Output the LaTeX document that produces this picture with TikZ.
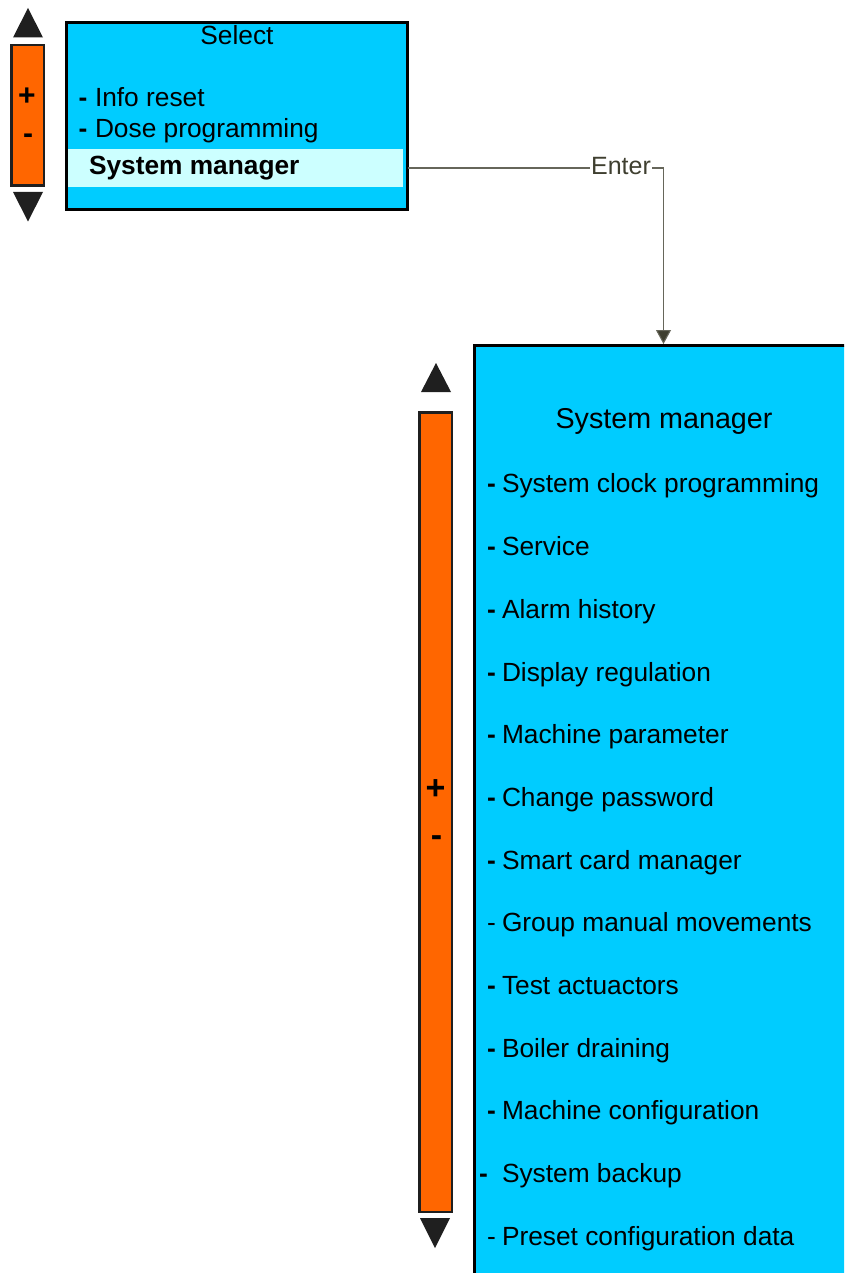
\documentclass[tikz,border=0pt]{standalone}
\usepackage{fontspec}
\setmainfont{Liberation Sans}
\usetikzlibrary{arrows.meta}
\definecolor{scr}{HTML}{00CCFF}
\definecolor{orng}{HTML}{FF6600}
\definecolor{hilite}{HTML}{CCFFFF}
\definecolor{tri}{HTML}{1F1F1F}
\definecolor{connline}{HTML}{66665A}
\definecolor{conntxt}{HTML}{3F3F30}
\begin{document}
\begin{tikzpicture}[x=1pt,y=-1pt,
  screenbox/.style={draw=black, line width=3pt, fill=scr, anchor=north west, outer sep=0pt, inner sep=0pt},
  barbox/.style={draw=black!88, line width=2.5pt, fill=orng, anchor=north west, outer sep=0pt, inner sep=0pt},
  hlbox/.style={fill=hilite, anchor=north west, outer sep=0pt, inner sep=0pt},
  txt/.style={inner sep=0pt, outer sep=0pt, anchor=base west, font=\fontsize{26.3}{30}\selectfont},
  sign/.style={inner sep=0pt, outer sep=0pt, anchor=center, font=\fontsize{30}{34}\selectfont\bfseries},
  bigsign/.style={inner sep=0pt, outer sep=0pt, anchor=center, font=\fontsize{34}{38}\selectfont\bfseries},
  conn/.style={draw=connline, line width=1.1pt, -{Triangle[length=14pt,width=15pt,fill=conntxt]}},
  lbl/.style={fill=white, text=conntxt, inner sep=1pt, font=\fontsize{25}{28}\selectfont}
]
\clip (0,0) rectangle (844,1273);
\useasboundingbox (0,0) rectangle (844,1273);

% ---- small scroll bar ----
\fill[tri] (13,37.5) -- (43,37.5) -- (28,8) -- cycle;
\node[barbox, minimum width=32.5pt, minimum height=140.5pt] (sbar) at (11.25,45.25) {};
\node[sign] (splus) at (27,96.5) {+};
\node[sign] (sminus) at (28,139) {-};
\fill[tri] (13,192) -- (43,192) -- (28,221.5) -- cycle;

% ---- select screen ----
\node[screenbox, minimum width=341pt, minimum height=187pt] (selbox) at (66.5,22.5) {};
\node[hlbox, minimum width=335pt, minimum height=38pt] (hl) at (68,149) {};
\node[txt, anchor=base] (seltitle) at (237,45) {Select};
\node[txt, font=\fontsize{26.3}{30}\selectfont\bfseries] (d1) at (78.5,107) {-};
\node[txt] (s1) at (95,107) {Info reset};
\node[txt, font=\fontsize{26.3}{30}\selectfont\bfseries] (d2) at (78.5,138) {-};
\node[txt] (s2) at (95,138) {Dose programming};
\node[txt, font=\fontsize{26.3}{30}\selectfont\bfseries] (s3) at (89,175) {System manager};

% ---- big scroll bar ----
\fill[tri] (421,392) -- (451,392) -- (436,363) -- cycle;
\node[barbox, minimum width=32.5pt, minimum height=799.5pt] (bbar) at (419.25,412.25) {};
\node[bigsign] (bplus) at (435.5,789.5) {+};
\node[bigsign] (bminus) at (436.5,841) {-};
\fill[tri] (420,1218) -- (450,1218) -- (435,1248) -- cycle;

% ---- system manager screen ----
\node[screenbox, minimum width=378pt, minimum height=960pt] (bigbox) at (474.5,345.5) {};
\node[txt, anchor=base, font=\fontsize{28.7}{32}\selectfont] (bigtitle) at (664,428) {System manager};
\foreach \yy/\dx/\bd/\t [count=\i] in {
  492/487/1/System clock programming,
  555/487/1/Service,
  618/487/1/Alarm history,
  681/487/1/Display regulation,
  743/487/1/Machine parameter,
  806/487/1/Change password,
  869/487/1/Smart card manager,
  931/487/0/Group manual movements,
  994/487/1/Test actuactors,
  1057/487/1/Boiler draining,
  1119/487/1/Machine configuration,
  1182/479/1/System backup,
  1245/487/0/Preset configuration data}{
  \ifnum\bd=1
    \node[txt, font=\fontsize{26.3}{30}\selectfont\bfseries] (dash\i) at (\dx,\yy) {-};
  \else
    \node[txt] (dash\i) at (\dx,\yy) {-};
  \fi
  \node[txt] (item\i) at (502,\yy) {\t};
}

% ---- connector ----
\draw[conn, shorten >=1.5pt] (selbox.east |- hl.center) -| (bigbox.north);
\node[lbl] (enter) at (621,166) {Enter};
\end{tikzpicture}
\end{document}
